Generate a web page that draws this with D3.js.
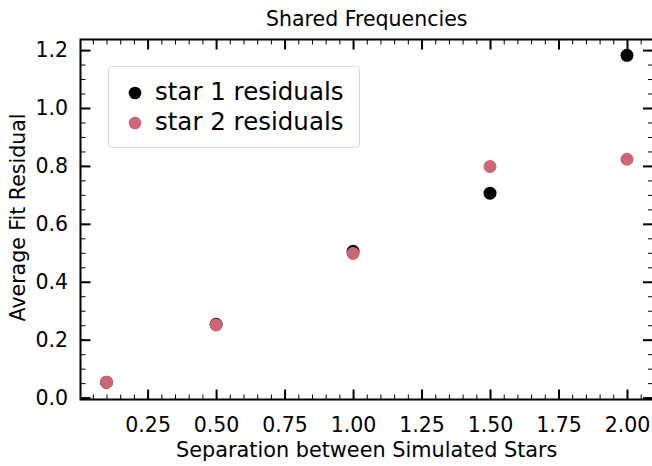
<!DOCTYPE html>
<html><head><meta charset="utf-8">
<script src="https://cdn.jsdelivr.net/npm/d3@7"></script>
<style>body{margin:0;background:#fff}svg{display:block}text{font-family:"DejaVu Sans",sans-serif}</style>
</head><body><svg id="c" width="652" height="466"></svg>
<script>
const separations = [0.1, 0.5, 1.0, 1.5, 2.0];
const star1Residuals = [0.053, 0.253, 0.505, 0.706, 1.182];
const star2Residuals = [0.053, 0.251, 0.498, 0.798, 0.823];
const xTicks = [0.25, 0.5, 0.75, 1.0, 1.25, 1.5, 1.75, 2.0];
const yTicks = [0.0, 0.2, 0.4, 0.6, 0.8, 1.0, 1.2];
const seriesNames = ["star 1 residuals", "star 2 residuals"];
const seriesColors = ["#000000", "#cc6677"];

const svg = d3.select("#c");
const L = 80.5, R = 653, T = 39.5, B = 399.5;
const x = d3.scaleLinear().domain([0.005, 2.095]).range([L, R]);
const y = d3.scaleLinear().domain([-0.0065, 1.2365]).range([B, T]);

const fmt2 = d3.format(".2f"), fmt1 = d3.format(".1f");
const xMinor = d3.range(0, 2.1, 0.05).filter(v => x(v) >= L && x(v) <= R);
const yMinor = d3.range(0, 1.24, 0.05).filter(v => y(v) <= B && y(v) >= T);

function drawAxis(gen, tf, major, minor, fmt, pad) {
  const gMin = svg.append("g").attr("transform", tf).call(gen.tickValues(minor).tickSize(-5).tickFormat(""));
  gMin.selectAll("line").attr("stroke-width", 1);
  gMin.select(".domain").remove();
  const g = svg.append("g").attr("transform", tf).call(gen.tickValues(major).tickSize(-10).tickPadding(pad).tickFormat(fmt));
  g.selectAll("line").attr("stroke-width", 2);
  g.select(".domain").remove();
  g.selectAll("text").attr("font-size", 20.5).attr("fill", "#000").style("font-family", "DejaVu Sans");
  return g;
}
drawAxis(d3.axisBottom(x), `translate(0,${B})`, xTicks, xMinor, fmt2, 17.6);
drawAxis(d3.axisTop(x), `translate(0,${T})`, xTicks, xMinor, fmt2, 10).selectAll("text").remove();
drawAxis(d3.axisLeft(y), `translate(${L},0)`, yTicks, yMinor, fmt1, 12.5);
drawAxis(d3.axisRight(y), `translate(${R},0)`, yTicks, yMinor, fmt1, 10).selectAll("text").remove();

svg.append("rect").attr("x", L).attr("y", T).attr("width", R - L).attr("height", B - T)
  .attr("fill", "none").attr("stroke", "#000").attr("stroke-width", 2);

const series = [star1Residuals, star2Residuals];
series.forEach((vals, i) => {
  svg.append("g").selectAll("circle").data(vals).join("circle")
    .attr("cx", (d, j) => x(separations[j])).attr("cy", d => y(d))
    .attr("r", 6.5).attr("fill", seriesColors[i]);
});

svg.append("text").attr("x", (L + R) / 2).attr("y", 26.3).attr("text-anchor", "middle")
  .attr("font-size", 20.5).text("Shared Frequencies");
svg.append("text").attr("x", (L + R) / 2).attr("y", 456.7).attr("text-anchor", "middle")
  .attr("font-size", 20.8).text("Separation between Simulated Stars");
svg.append("text").attr("transform", `translate(25,217.5) rotate(-90)`).attr("text-anchor", "middle")
  .attr("font-size", 20.5).text("Average Fit Residual");

const lg = svg.append("g");
lg.append("rect").attr("x", 108.5).attr("y", 66.5).attr("width", 251).attr("height", 81).attr("rx", 4)
  .attr("fill", "#fff").attr("fill-opacity", 0.8).attr("stroke", "#d9d9d9").attr("stroke-width", 1.2);
seriesNames.forEach((n, i) => {
  lg.append("circle").attr("cx", 135).attr("cy", 93 + i * 30).attr("r", 6.3).attr("fill", seriesColors[i]);
  lg.append("text").attr("x", 155).attr("y", 100.3 + i * 30).attr("font-size", 24.5).text(n);
});
</script></body></html>
